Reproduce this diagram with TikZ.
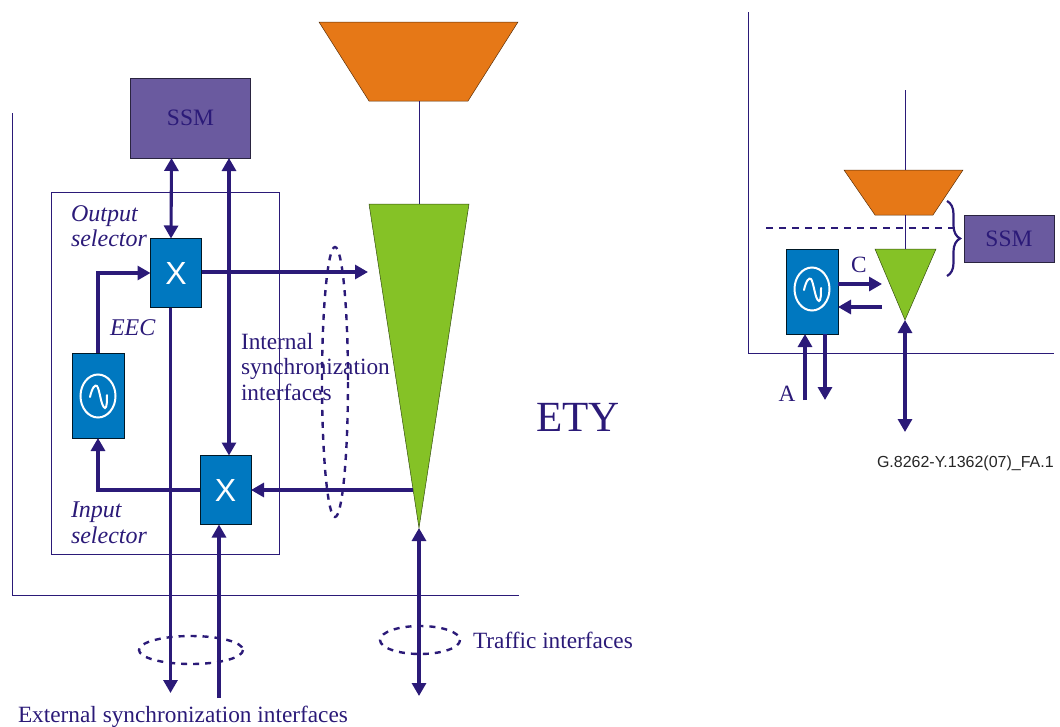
\documentclass[tikz,border=0pt]{standalone}
\usepackage{fontspec}
\setmainfont{Liberation Serif}
\newfontfamily\sansfont{Liberation Sans}
\usetikzlibrary{arrows.meta,decorations.pathreplacing}
\definecolor{navy}{HTML}{2B1A78}
\definecolor{ssmfill}{HTML}{6A5A9F}
\definecolor{blockfill}{HTML}{0078C0}
\definecolor{wedge}{HTML}{85C226}
\definecolor{hopper}{HTML}{E67817}
\newcommand{\sinewave}[2]{% center x, center y
    \draw[white,line width=2pt] (#1,#2) ellipse (17.5 and 21.5);
    \draw[white,line width=2pt,line cap=round] (#1-8,#2+1) .. controls (#1-6,#2-8) and (#1-3,#2-12) .. (#1-1,#2-10)
        .. controls (#1+2,#2-6) and (#1+3,#2+11) .. (#1+7,#2+12) .. controls (#1+9,#2+12) and (#1+9,#2+4) .. (#1+9,#2-1);
}
\begin{document}
\begin{tikzpicture}
                [
                x=1pt,y=-1pt,
                every node/.style={inner sep=0pt,outer sep=0pt},
                block/.style={rectangle,draw=black!80!blockfill,fill=blockfill,line width=0.8pt},
                ssmbox/.style={rectangle,draw=black!60!ssmfill,fill=ssmfill,line width=0.8pt,text=navy,font=\fontsize{23.5}{26}\selectfont},
                thinline/.style={draw=navy,line width=1pt},
                edge/.style={navy,line width=3.1pt,-{Triangle[length=13pt,width=14pt]}},
                bothedge/.style={navy,line width=3.1pt,{Triangle[length=13pt,width=14pt]}-{Triangle[length=13pt,width=14pt]}},
                ring/.style={navy,line width=2.4pt,dash pattern=on 6pt off 6pt},
                lab/.style={text=navy,align=left,font=\fontsize{23.3}{25.5}\selectfont},
                ital/.style={lab,font=\fontsize{24}{25.5}\selectfont\itshape},
                xmark/.style={white,font=\sansfont\fontsize{32}{32}\selectfont}
                ]
            \useasboundingbox (0,0) rectangle (1060,726);
            % left side
            \draw[thinline] (12,113) -- (12,595) -- (519,595);
            \node[draw=navy,line width=1pt,minimum width=228pt,minimum height=362pt] (frame) at (165,373) {};
            \coordinate (hoppera) at (419,101);
            \coordinate (wedgea) at (419,204);
            \coordinate (tipa) at (419,528);
            \draw[black!60!hopper,fill=hopper,line width=0.5pt] (319,22) -- (518,22) -- (468,101) -- (369,101) -- cycle;
            \draw[black!60!wedge,fill=wedge,line width=0.5pt] (369,204) -- (469,204) -- (tipa) -- cycle;
            \draw[thinline] (hoppera) -- (wedgea);
            \node[ssmbox,minimum width=120pt,minimum height=80pt] (ssma) at (190.5,118) {SSM};
            \node[block,minimum width=51pt,minimum height=69pt] (xout) at (176,273) {};
            \node[xmark] at (xout) {X};
            \node[block,minimum width=51pt,minimum height=69pt] (xin) at (225.5,490) {};
            \node[xmark] (xinlab) at (xin) {X};
            \node[block,minimum width=52pt,minimum height=85pt] (eeca) at (98,395.5) {};
            \sinewave{98}{396}
            \coordinate (outend) at (368,272);
            \coordinate (inend) at (413,490);
            \coordinate (extout) at (170.5,693);
            \coordinate (extin) at (219,698);
            \coordinate (traffic) at (419,696);
            \draw[bothedge] ([xshift=-19pt]ssma.south) -- ([xshift=-5pt]xout.north);
            \draw[bothedge] ([xshift=38.5pt]ssma.south) -- ([xshift=3.5pt]xin.north);
            \draw[edge] (xout.east |- outend) -- (outend);
            \draw[edge] (eeca.north) |- (xout.west);
            \draw[edge] (xin.west) -| (eeca.south);
            \draw[edge] (inend) -- (xin.east);
            \draw[edge] (xout.south -| extout) -- (extout);
            \draw[edge] (extin) -- (xin.south -| extin);
            \draw[bothedge] (tipa) -- (traffic);
            \draw[ring] (335,382) ellipse (13 and 135);
            \draw[ring] (191,650) ellipse (52 and 14);
            \draw[ring] (420,640) ellipse (40 and 14);
            \node[ital,anchor=west] (outlab) at (71,226) {Output\\selector};
            \node[ital,anchor=west] (eeclab) at (110,328) {EEC};
            \node[ital,anchor=west] (inlab) at (71,523) {Input\\selector};
            \node[lab,anchor=west] (intlab) at (241,367) {Internal\\synchronization\\interfaces};
            \node[lab,anchor=west,font=\fontsize{43}{46}\selectfont] (ety) at (536,417) {ETY};
            \node[lab,anchor=west] (trlab) at (473,640) {Traffic interfaces};
            \node[lab,anchor=west] (extlab) at (18,716.5) {External synchronization interfaces};
            % right side
            \draw[thinline] (748,12) -- (748,353) -- (1054,353);
            \coordinate (hoppertop) at (905,90);
            \coordinate (hopperb) at (905,170);
            \coordinate (wedgeb) at (905,249);
            \coordinate (tipb) at (905,320);
            \draw[black!60!hopper,fill=hopper,line width=0.5pt] (844,170) -- (963,170) -- (933,215) -- (875,215) -- cycle;
            \draw[black!60!wedge,fill=wedge,line width=0.5pt] (875,249) -- (936,249) -- (tipb) -- cycle;
            \draw[thinline] (hoppertop) -- (hopperb);
            \draw[thinline] (905,215) -- (wedgeb);
            \node[ssmbox,minimum width=90pt,minimum height=47pt] (ssmb) at (1009,238.5) {SSM};
            \node[block,minimum width=52pt,minimum height=85pt] (eecb) at (812,291.5) {};
            \sinewave{812}{289}
            \draw[navy,line width=2.6pt,dash pattern=on 7pt off 6pt] (766,228) -- (960,228);
            \draw[navy,line width=2.2pt,decorate,decoration={brace,amplitude=13pt}] (947,201) -- (947,276);
            \coordinate (cout) at (882,284);
            \coordinate (cin) at (882,307);
            \coordinate (aup) at (805,400);
            \coordinate (adown) at (825,400);
            \coordinate (trafficb) at (905,432);
            \draw[edge] (eecb.east |- cout) -- (cout);
            \draw[edge] (cin) -- (eecb.east |- cin);
            \draw[edge] (aup) -- (eecb.south -| aup);
            \draw[edge] (eecb.south -| adown) -- (adown);
            \draw[bothedge] (tipb) -- (trafficb);
            \node[lab] (clab) at (859,265) {C};
            \node[lab] (alab) at (787,394) {A};
            \node[anchor=west,font=\sansfont\fontsize{16}{18}\selectfont,text=black!85] (figlab) at (877,463) {G.8262-Y.1362(07)\_FA.1};
            \end{tikzpicture}
\end{document}
